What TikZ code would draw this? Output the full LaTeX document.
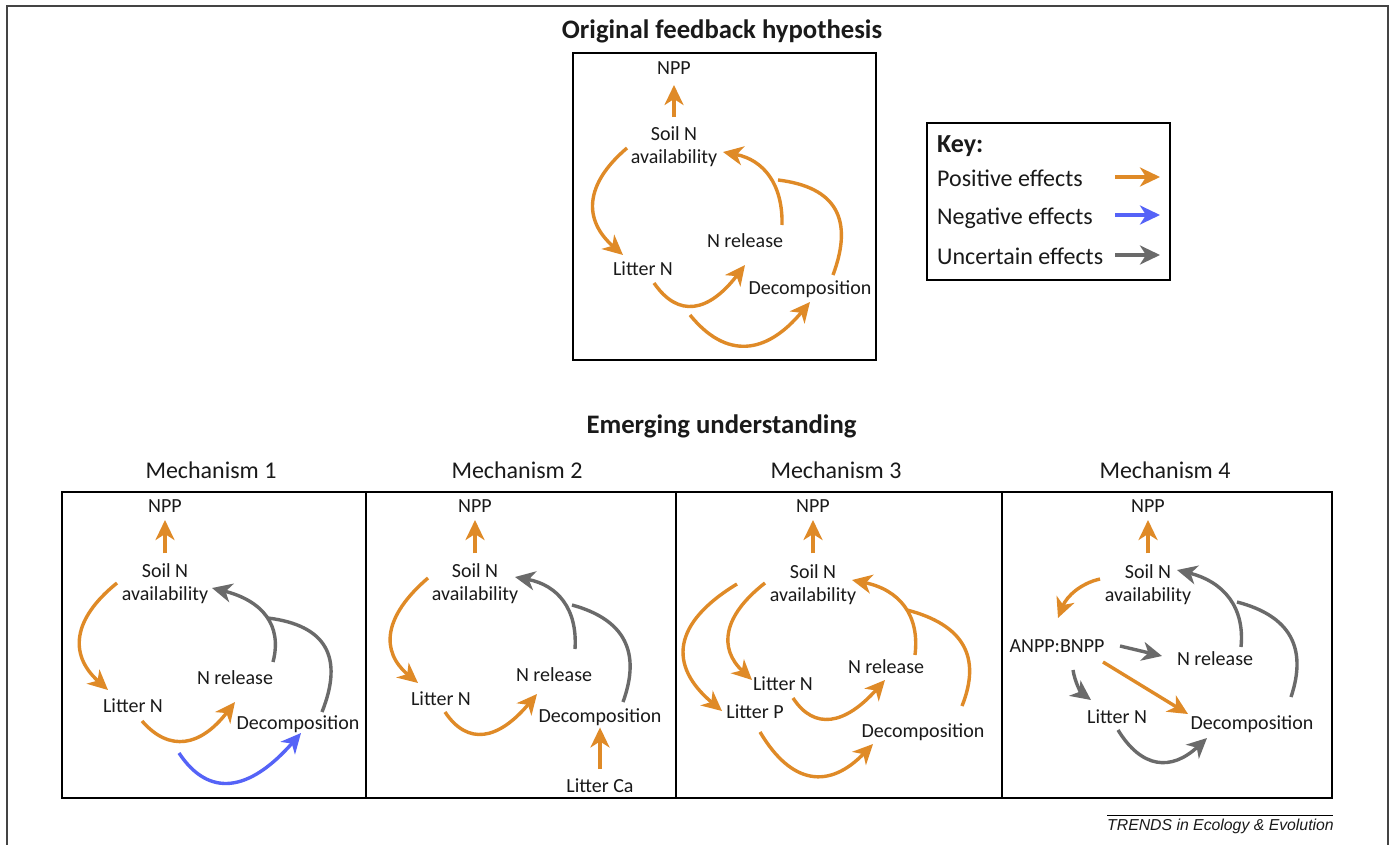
\documentclass[tikz,border=0pt]{standalone}
\usepackage{fontspec}
\setmainfont{Carlito}
\newfontfamily\footfont{Liberation Sans}
\usetikzlibrary{arrows.meta,calc}
\definecolor{pcol}{HTML}{DF8A27}
\definecolor{ncol}{HTML}{5563F7}
\definecolor{ucol}{HTML}{6A6A6A}
\definecolor{txt}{HTML}{1A1A1A}
\definecolor{framecol}{HTML}{444444}
\tikzset{
  lab/.style={inner sep=0pt, font=\fontsize{20}{23}\selectfont, text=txt},
  labtwo/.style={lab, align=center},
  ttl/.style={inner sep=0pt, font=\fontsize{26.7}{30}\selectfont\bfseries, text=txt},
  mech/.style={inner sep=0pt, font=\fontsize{24}{28}\selectfont, text=txt},
  keyt/.style={inner sep=0pt, font=\fontsize{24}{28}\selectfont, text=txt},
  boxline/.style={line width=2.6pt, draw=black},
  tipped/.style={line width=3.4pt, -{Stealth[length=20pt,width=19pt,inset=6pt]}},
  posa/.style={tipped, draw=pcol, color=pcol},
  nega/.style={tipped, draw=ncol, color=ncol},
  unca/.style={tipped, draw=ucol, color=ucol},
  posl/.style={line width=3.4pt, draw=pcol},
  uncl/.style={line width=3.4pt, draw=ucol},
}
% curve from start (#2) through middle (#3) to end (#4)
\newcommand\flowarc[4]{%
  \coordinate (fS) at (#2);
  \coordinate (fM) at (#3);
  \coordinate (fE) at (#4);
  \draw[#1] (fS) .. controls ($1.3333*(fM)-0.3333*(fE)$) and ($1.3333*(fM)-0.3333*(fS)$) .. (fE);}
\begin{document}
\begin{tikzpicture}[x=1pt,y=-1pt]
\useasboundingbox (0,0) rectangle (1394,845);
\fill[white] (0,0) rectangle (1394,845);
% outer frame
\draw[line width=2pt, draw=framecol] (7,845) -- (7,6) -- (1388,6) -- (1388,845);

% ---------------- top panel ----------------
\node[ttl, anchor=base] (ttop) at (722,39) {Original feedback hypothesis};
\draw[boxline] (573,53) rectangle (876,360);
\node[lab, anchor=base] (tnpp) at (674,75) {NPP};
\node[labtwo] (tsoil) at (674,146.5) {Soil N\\availability};
\node[lab, anchor=base] (tlit) at (643,275) {Litter N};
\node[lab, anchor=base] (trel) at (745,247) {N release};
\node[lab, anchor=base] (tdec) at (810,294) {Decomposition};
\draw[posa, shorten <=9pt, shorten >=10pt] (tsoil.north) -- (tnpp.base);
\flowarc{posa}{[shift={(-47,1.5)}]tsoil.center}{594,202}{[shift={(-20,-20)}]tlit.base}
\flowarc{posa}{[shift={(11,8)}]tlit.base}{695,305}{[shift={(0,18)}]trel.base}
\flowarc{posa}{[shift={(47,40)}]tlit.base}{747,345}{[shift={(0,8)}]tdec.base}
\flowarc{posa}{[shift={(37,-22)}]trel.base}{768,176}{[shift={(49,5.5)}]tsoil.center}
\coordinate (tjoin) at (778,180);
\flowarc{posl}{[shift={(23,-19)}]tdec.base}{835,209}{tjoin}

% ---------------- key ----------------
\draw[line width=1.5pt, draw=black] (927,123) rectangle (1170,280);
\node[keyt, anchor=base west, font=\fontsize{26}{30}\selectfont\bfseries] (khead) at (937,153) {Key:};
\node[keyt, anchor=base west] (kpos) at (937,186) {Positive effects};
\node[keyt, anchor=base west] (kneg) at (937,224) {Negative effects};
\node[keyt, anchor=base west] (kunc) at (937,264) {Uncertain effects};
\coordinate (kpa) at (1115,177); \coordinate (kpb) at (1160,177);
\coordinate (kna) at (1115,215); \coordinate (knb) at (1160,215);
\coordinate (kua) at (1115,255); \coordinate (kub) at (1160,255);
\draw[posa] (kpa) -- (kpb);
\draw[nega] (kna) -- (knb);
\draw[unca] (kua) -- (kub);

% ---------------- bottom ----------------
\node[ttl, anchor=base] (tbot) at (721.5,433) {Emerging understanding};
\node[mech, anchor=base] (m1) at (211,478) {Mechanism 1};
\node[mech, anchor=base] (m2) at (517,478) {Mechanism 2};
\node[mech, anchor=base] (m3) at (836,478) {Mechanism 3};
\node[mech, anchor=base] (m4) at (1165,478) {Mechanism 4};
\draw[boxline] (62,492) rectangle (1332,798);
\draw[boxline] (366,492) -- (366,798);
\draw[boxline] (676,492) -- (676,798);
\draw[boxline] (1002,492) -- (1002,798);

% panel 1
\node[lab, anchor=base] (n1) at (165,512) {NPP};
\node[labtwo] (s1) at (165,583.5) {Soil N\\availability};
\node[lab, anchor=base] (l1) at (133,712) {Litter N};
\node[lab, anchor=base] (r1) at (235,684) {N release};
\node[lab, anchor=base] (d1) at (298,729) {Decomposition};
\draw[posa, shorten <=10pt, shorten >=8pt] (s1.north) -- (n1.base);
\flowarc{posa}{[shift={(-48,-0.5)}]s1.center}{81,637}{[shift={(-25,-22)}]l1.base}
\flowarc{posa}{[shift={(9,9)}]l1.base}{186,740}{[shift={(0,18)}]r1.base}
\flowarc{nega}{[shift={(46,41)}]l1.base}{232,782}{[shift={(3,4)}]d1.base}
\flowarc{unca}{[shift={(38,-22)}]r1.base}{265,616}{[shift={(47,4.5)}]s1.center}
\coordinate (j1) at (268,618);
\flowarc{uncl}{[shift={(24,-17)}]d1.base}{325,647}{j1}

% panel 2
\node[lab, anchor=base] (n2) at (475,512) {NPP};
\node[labtwo] (s2) at (475,583.5) {Soil N\\availability};
\node[lab, anchor=base] (l2) at (441,705) {Litter N};
\node[lab, anchor=base] (r2) at (554,681) {N release};
\node[lab, anchor=base] (d2) at (600,722) {Decomposition};
\node[lab, anchor=base] (c2) at (600,792) {Litter Ca};
\draw[posa, shorten <=10pt, shorten >=8pt] (s2.north) -- (n2.base);
\draw[posa, shorten <=9pt, shorten >=2pt] (c2.north) -- (d2.south);
\flowarc{posa}{[shift={(-47,-5.5)}]s2.center}{392,633}{[shift={(-23,-22)}]l2.base}
\flowarc{posa}{[shift={(4,7)}]l2.base}{485,733}{[shift={(-17,13)}]r2.base}
\flowarc{unca}{[shift={(21,-32)}]r2.base}{562,601}{[shift={(40,-6.5)}]s2.center}
\coordinate (j2) at (572,605);
\flowarc{uncl}{[shift={(23,-20)}]d2.base}{624,640}{j2}

% panel 3
\node[lab, anchor=base] (n3) at (813,512) {NPP};
\node[labtwo] (s3) at (813,584.5) {Soil N\\availability};
\node[lab, anchor=base] (ln3) at (783,690) {Litter N};
\node[lab, anchor=base] (lp3) at (755,718) {Litter P};
\node[lab, anchor=base] (r3) at (886,673) {N release};
\node[lab, anchor=base] (d3) at (923,737) {Decomposition};
\draw[posa, shorten <=11pt, shorten >=8pt] (s3.north) -- (n3.base);
\flowarc{posa}{[shift={(-48,-1.5)}]s3.center}{730,632}{[shift={(-31,-10)}]ln3.base}
\flowarc{posa}{[shift={(-76,-0.5)}]s3.center}{685,645}{[shift={(-33,-7)}]lp3.base}
\flowarc{posa}{[shift={(10,8)}]ln3.base}{832,718}{[shift={(-1,7)}]r3.base}
\flowarc{posa}{[shift={(5,14)}]lp3.base}{812,775}{[shift={(-50,7)}]d3.base}
\flowarc{posa}{[shift={(29,-18)}]r3.base}{903,606}{[shift={(39,-4.5)}]s3.center}
\coordinate (j3) at (907,610);
\flowarc{posl}{[shift={(39,-31)}]d3.base}{963,645}{j3}

% panel 4
\node[lab, anchor=base] (n4) at (1148,512) {NPP};
\node[labtwo] (s4) at (1148,584.5) {Soil N\\availability};
\node[lab, anchor=base] (a4) at (1057,652) {ANPP:BNPP};
\node[lab, anchor=base] (r4) at (1215,665) {N release};
\node[lab, anchor=base] (lt4) at (1117,723) {Litter N};
\node[lab, anchor=base] (d4) at (1252,729) {Decomposition};
\draw[posa, shorten <=11pt, shorten >=8pt] (s4.north) -- (n4.base);
\flowarc{posa}{[shift={(-48,-5.5)}]s4.center}{1075,592}{[shift={(1,-34)}]a4.base}
\draw[unca] ([shift={(63,-6)}]a4.base) -- ([shift={(-53,-9)}]r4.base);
\draw[posa] ([shift={(46,10)}]a4.base) -- ([shift={(-64,-15)}]d4.base);
\flowarc{unca}{[shift={(16,18)}]a4.base}{1079,687}{[shift={(-26,-23)}]lt4.base}
\flowarc{unca}{[shift={(1,7)}]lt4.base}{1158,761}{[shift={(-45,9)}]d4.base}
\flowarc{unca}{[shift={(26,-18)}]r4.base}{1228,598}{[shift={(29,-14.5)}]s4.center}
\coordinate (j4) at (1237,602);
\flowarc{uncl}{[shift={(39,-32)}]d4.base}{1290,636}{j4}

% footer
\coordinate (fla) at (1107,815); \coordinate (flb) at (1333,815);
\draw[line width=0.9pt, draw=black] (fla) -- (flb);
\node[inner sep=0pt, anchor=base west, font=\footfont\itshape\fontsize{15.8}{18}\selectfont, text=txt] (foot) at (1107,830) {TRENDS in Ecology \& Evolution};
\end{tikzpicture}
\end{document}
